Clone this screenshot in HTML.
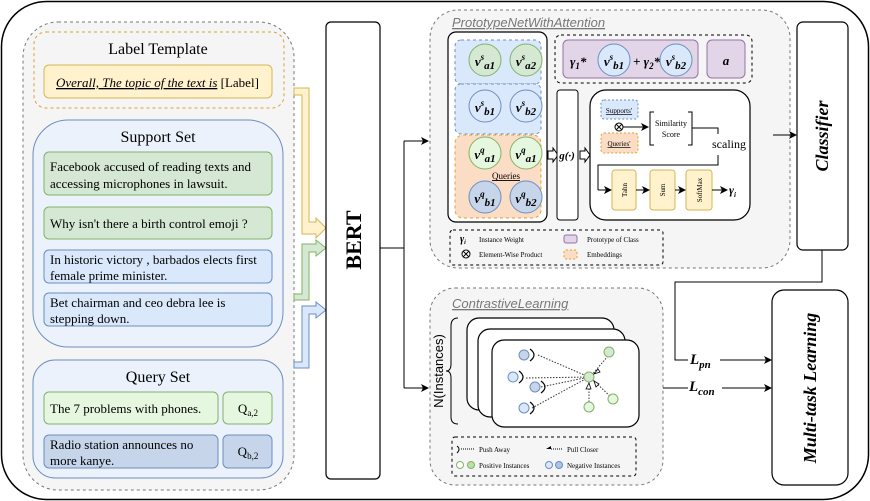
<!DOCTYPE html>
<html><head><meta charset="utf-8"><style>
html,body{margin:0;padding:0;background:#fff}
svg{display:block}
text{font-family:"Liberation Serif",serif}
</style></head><body>
<svg width="870" height="501" viewBox="0 0 870 501" xmlns="http://www.w3.org/2000/svg">
<defs>
<marker id="ah" markerWidth="8" markerHeight="8" refX="7" refY="4" orient="auto" markerUnits="userSpaceOnUse"><path d="M0,0 L8,4 L0,8 L2,4 Z" fill="#000"/></marker>
</defs>
<!-- outer -->
<rect x="1.5" y="1.5" width="867" height="498" rx="45" fill="#fff" stroke="#000" stroke-width="1.5"/>

<!-- left panel -->
<rect x="23" y="22" width="271" height="218" fill="none"/>
<rect x="23" y="22" width="271" height="218" rx="0" fill="none"/>
<rect x="23" y="22" width="271" height="218" fill="none"/>
<rect x="23" y="22" width="271" height="218" fill="none"/>
<rect x="23" y="22" width="271" height="218" fill="none"/>
<rect x="23" y="22" width="271" height="468" rx="35" fill="#f5f5f5" stroke="#777" stroke-dasharray="3,3"/>
<rect x="34" y="32" width="250" height="76" rx="12" fill="none" stroke="#e0a030" stroke-dasharray="3,3"/>
<text x="158" y="54" font-size="16" text-anchor="middle">Label Template</text>
<rect x="44" y="65" width="228" height="33" rx="5" fill="#fff2cc" stroke="#d6b656"/>
<text x="56" y="87" font-size="13"><tspan font-style="italic" text-decoration="underline">Overall, The topic of the text is</tspan> [Label]</text>

<rect x="33" y="120" width="250" height="227" rx="35" fill="#ebf2fb" stroke="#6c8ebf"/>
<text x="158" y="142" font-size="16" text-anchor="middle">Support Set</text>
<rect x="44" y="152" width="228" height="43" rx="5" fill="#d5e8d4" stroke="#82b366"/>
<text x="50" y="171" font-size="13">Facebook accused of reading texts and</text>
<text x="50" y="188" font-size="13">accessing microphones in lawsuit.</text>
<rect x="44" y="207" width="228" height="32" rx="5" fill="#d5e8d4" stroke="#82b366"/>
<text x="50" y="228" font-size="13">Why isn't there a birth control emoji ?</text>
<rect x="44" y="250" width="228" height="33" rx="5" fill="#dae8fc" stroke="#6c8ebf"/>
<text x="50" y="264" font-size="13">In historic victory , barbados elects first</text>
<text x="50" y="280" font-size="13">female prime minister.</text>
<rect x="44" y="293" width="228" height="33" rx="5" fill="#dae8fc" stroke="#6c8ebf"/>
<text x="50" y="307" font-size="13">Bet chairman and ceo debra lee is</text>
<text x="50" y="323" font-size="13">stepping down.</text>

<rect x="33" y="360" width="250" height="118" rx="22" fill="#ebf2fb" stroke="#6c8ebf"/>
<text x="158" y="382" font-size="16" text-anchor="middle">Query Set</text>
<rect x="44" y="392" width="174" height="32" rx="5" fill="#e6f7e0" stroke="#82b366"/>
<text x="50" y="413" font-size="13">The 7 problems with phones.</text>
<rect x="223" y="392" width="49" height="32" rx="5" fill="#e6f7e0" stroke="#82b366"/>
<text x="248" y="413" font-size="13" text-anchor="middle">Q<tspan font-size="9" dy="3">a,2</tspan></text>
<rect x="44" y="435" width="174" height="33" rx="5" fill="#c6d5ea" stroke="#6c8ebf"/>
<text x="50" y="449" font-size="13">Radio station announces no</text>
<text x="50" y="465" font-size="13">more kanye.</text>
<rect x="223" y="435" width="49" height="33" rx="5" fill="#c6d5ea" stroke="#6c8ebf"/>
<text x="248" y="456" font-size="13" text-anchor="middle">Q<tspan font-size="9" dy="3">b,2</tspan></text>

<!-- hollow arrows to BERT -->
<path d="M294,88 L309,88 L309,222 L316,222 L316,218 L326,228 L316,238 L316,234 L302,234 L302,95 L294,95 Z" fill="#fff2cc" stroke="#d6b656"/>
<path d="M294,294 L302,294 L302,244 L316,244 L316,240 L326,248 L316,256 L316,252 L309,252 L309,300 L294,300 Z" fill="#d5e8d4" stroke="#82b366"/>
<path d="M294,362 L302,362 L302,306 L316,306 L316,302 L326,310 L316,318 L316,314 L309,314 L309,368 L294,368 Z" fill="#dae8fc" stroke="#6c8ebf"/>

<!-- BERT -->
<rect x="326" y="22" width="54" height="457" rx="5" fill="#fff" stroke="#000" stroke-width="1.2"/>
<text transform="translate(361,240) rotate(-90)" font-size="22" font-weight="bold" text-anchor="middle">BERT</text>

<path d="M380,248 L404,248 M404,141 L404,388" stroke="#000" fill="none"/>
<line x1="404" y1="141" x2="428" y2="141" stroke="#000" marker-end="url(#ah)"/>
<line x1="404" y1="388" x2="428" y2="388" stroke="#000" marker-end="url(#ah)"/>

<!-- Prototype panel -->
<rect x="430" y="10" width="360" height="258" rx="28" fill="#f5f5f5" stroke="#777" stroke-dasharray="3,3"/>
<text x="452" y="27" font-size="13" font-style="italic" fill="#777" text-decoration="underline" style="font-family:'Liberation Sans',sans-serif">PrototypeNetWithAttention</text>
<rect x="448" y="32" width="99" height="190" rx="8" fill="#fff" stroke="#000" stroke-width="1.2"/>
<rect x="455" y="40" width="86" height="44" rx="6" fill="#dae8fc" stroke="#6c8ebf" stroke-dasharray="3,3"/>
<rect x="455" y="84" width="86" height="50" rx="6" fill="#dae8fc" stroke="#6c8ebf" stroke-dasharray="3,3"/>
<rect x="455" y="135" width="86" height="83" rx="8" fill="#fbdcc4" stroke="#e0a030" stroke-dasharray="3,3"/>
<g font-size="13" font-weight="bold" font-style="italic" text-anchor="middle">
<circle cx="485" cy="60" r="16" fill="#d5e8d4" stroke="#82b366"/><text x="485" y="66">v<tspan font-size="9" dy="-6">s</tspan><tspan font-size="11" dy="9">a1</tspan></text>
<circle cx="526" cy="60" r="16" fill="#d5e8d4" stroke="#82b366"/><text x="526" y="66">v<tspan font-size="9" dy="-6">s</tspan><tspan font-size="11" dy="9">a2</tspan></text>
<circle cx="485" cy="106" r="16" fill="#dae8fc" stroke="#6c8ebf"/><text x="485" y="112">v<tspan font-size="9" dy="-6">s</tspan><tspan font-size="11" dy="9">b1</tspan></text>
<circle cx="526" cy="106" r="16" fill="#dae8fc" stroke="#6c8ebf"/><text x="526" y="112">v<tspan font-size="9" dy="-6">s</tspan><tspan font-size="11" dy="9">b2</tspan></text>
<circle cx="485" cy="153" r="16" fill="#e6f7e0" stroke="#82b366"/><text x="485" y="159">v<tspan font-size="9" dy="-6">q</tspan><tspan font-size="11" dy="9">a1</tspan></text>
<circle cx="526" cy="153" r="16" fill="#e6f7e0" stroke="#82b366"/><text x="526" y="159">v<tspan font-size="9" dy="-6">q</tspan><tspan font-size="11" dy="9">a1</tspan></text>
<circle cx="485" cy="197" r="16" fill="#c6d5ea" stroke="#6c8ebf"/><text x="485" y="203">v<tspan font-size="9" dy="-6">q</tspan><tspan font-size="11" dy="9">b1</tspan></text>
<circle cx="526" cy="197" r="16" fill="#c6d5ea" stroke="#6c8ebf"/><text x="526" y="203">v<tspan font-size="9" dy="-6">q</tspan><tspan font-size="11" dy="9">b2</tspan></text>
</g>
<text x="506" y="179" font-size="9" text-anchor="middle" text-decoration="underline">Queries</text>

<path d="M548,151 L553,151 L553,148 L558,155 L553,162 L553,159 L548,159 Z" fill="#fff" stroke="#000"/>
<rect x="557" y="90" width="21" height="130" rx="3" fill="#fff" stroke="#000"/>
<text x="567" y="159" font-size="11" font-weight="bold" font-style="italic" text-anchor="middle">g(·)</text>
<path d="M580,151 L585,151 L585,148 L590,155 L585,162 L585,159 L580,159 Z" fill="#fff" stroke="#000"/>

<rect x="555" y="35" width="197" height="48" rx="6" fill="none" stroke="#000" stroke-dasharray="3,3"/>
<rect x="563" y="40" width="135" height="38" rx="5" fill="#e1d5e7" stroke="#9673a6"/>
<rect x="707" y="40" width="38" height="38" rx="5" fill="#e1d5e7" stroke="#9673a6"/>
<text x="726" y="65" font-size="13" font-weight="bold" font-style="italic" text-anchor="middle">a</text>
<text x="570" y="66" font-size="13" font-weight="bold" font-style="italic">γ<tspan font-size="9" dy="3">1</tspan><tspan dy="-3">*</tspan></text>
<circle cx="614" cy="60" r="16" fill="#dae8fc" stroke="#6c8ebf"/>
<text x="614" y="66" font-size="13" font-weight="bold" font-style="italic" text-anchor="middle">v<tspan font-size="9" dy="-6">s</tspan><tspan font-size="11" dy="9">b1</tspan></text>
<text x="633" y="66" font-size="13" font-weight="bold" font-style="italic">+ γ<tspan font-size="9" dy="3">2</tspan><tspan dy="-3">*</tspan></text>
<circle cx="676" cy="60" r="16" fill="#dae8fc" stroke="#6c8ebf"/>
<text x="676" y="66" font-size="13" font-weight="bold" font-style="italic" text-anchor="middle">v<tspan font-size="9" dy="-6">s</tspan><tspan font-size="11" dy="9">b2</tspan></text>

<!-- attention box -->
<rect x="590" y="90" width="160" height="130" rx="16" fill="#fff" stroke="#000" stroke-width="1.2"/>
<rect x="601" y="100" width="37" height="19" rx="3" fill="#dae8fc" stroke="#6c8ebf" stroke-dasharray="2,2"/>
<text x="619" y="113" font-size="7" text-anchor="middle" text-decoration="underline">Supports'</text>
<rect x="601" y="133" width="37" height="20" rx="3" fill="#fbdcc4" stroke="#e0a030" stroke-dasharray="2,2"/>
<text x="619" y="146" font-size="7" text-anchor="middle" text-decoration="underline">Queries'</text>
<circle cx="619" cy="127" r="4" fill="#fff" stroke="#000"/>
<path d="M616,124 L622,130 M622,124 L616,130" stroke="#000"/>
<line x1="623" y1="127" x2="648" y2="127" stroke="#000" marker-end="url(#ah)"/>
<path d="M654,112 L650,112 L650,145 L654,145 M688,112 L692,112 L692,145 L688,145" stroke="#000" fill="none"/>
<text x="671" y="126" font-size="8" text-anchor="middle">Similarity</text>
<text x="671" y="137" font-size="8" text-anchor="middle">Score</text>
<path d="M692,128 L718,128 L718,134 M718,155 L718,165 L598,165 L598,190" stroke="#000" fill="none"/>
<text x="729" y="148" font-size="12" text-anchor="middle">scaling</text>
<line x1="598" y1="190" x2="611" y2="190" stroke="#000" marker-end="url(#ah)"/>
<rect x="612" y="170" width="24" height="40" rx="3" fill="#fff2cc" stroke="#d6b656"/>
<rect x="650" y="170" width="25" height="40" rx="3" fill="#fff2cc" stroke="#d6b656"/>
<rect x="686" y="170" width="26" height="40" rx="3" fill="#fff2cc" stroke="#d6b656"/>
<text transform="translate(627,190) rotate(-90)" font-size="7" text-anchor="middle">Tahn</text>
<text transform="translate(665,190) rotate(-90)" font-size="7" text-anchor="middle">Sum</text>
<text transform="translate(702,190) rotate(-90)" font-size="7" text-anchor="middle">SoftMax</text>
<line x1="636" y1="190" x2="649" y2="190" stroke="#000" marker-end="url(#ah)"/>
<line x1="675" y1="190" x2="685" y2="190" stroke="#000" marker-end="url(#ah)"/>
<line x1="712" y1="190" x2="727" y2="190" stroke="#000" marker-end="url(#ah)"/>
<text x="729" y="194" font-size="12" font-weight="bold" font-style="italic">γ<tspan font-size="7" dy="3">i</tspan></text>

<!-- legend 1 -->
<rect x="450" y="230" width="213" height="35" rx="3" fill="none" stroke="#000" stroke-dasharray="3,3"/>
<text x="460" y="242" font-size="10" font-weight="bold" font-style="italic">γ<tspan font-size="6" dy="2">i</tspan></text>
<text x="479" y="242" font-size="7">Instance Weight</text>
<circle cx="466" cy="254" r="4" fill="#fff" stroke="#000"/><path d="M463,251 L469,257 M469,251 L463,257" stroke="#000"/>
<text x="479" y="257" font-size="7">Element-Wise Product</text>
<rect x="564" y="235" width="13" height="8" rx="2" fill="#e1d5e7" stroke="#9673a6"/>
<text x="587" y="242" font-size="7">Prototype of Class</text>
<rect x="564" y="250" width="13" height="9" rx="2" fill="#fbdcc4" stroke="#e0a030" stroke-dasharray="2,2"/>
<text x="587" y="257" font-size="7">Embeddings</text>

<!-- Classifier -->
<rect x="797" y="22" width="51" height="228" rx="6" fill="#fff" stroke="#000" stroke-width="1.2"/>
<text transform="translate(828,136) rotate(-90)" font-size="18" font-weight="bold" font-style="italic" text-anchor="middle">Classifier</text>
<line x1="773" y1="135" x2="796" y2="135" stroke="#000" marker-end="url(#ah)"/>
<path d="M822,250 L822,282 L675,282 L675,360 L688,360" stroke="#000" fill="none"/>
<line x1="720" y1="360" x2="771" y2="360" stroke="#000" marker-end="url(#ah)"/>
<text x="690" y="364" font-size="15" font-weight="bold" font-style="italic">L<tspan font-size="11" dy="4">pn</tspan></text>
<line x1="663" y1="388" x2="688" y2="388" stroke="#000"/>
<line x1="722" y1="388" x2="771" y2="388" stroke="#000" marker-end="url(#ah)"/>
<text x="689" y="391" font-size="15" font-weight="bold" font-style="italic">L<tspan font-size="11" dy="4">con</tspan></text>

<rect x="772" y="290" width="76" height="195" rx="12" fill="#fff" stroke="#000" stroke-width="1.2"/>
<text transform="translate(816,388) rotate(-90)" font-size="18" font-weight="bold" font-style="italic" text-anchor="middle">Multi-task Learning</text>

<!-- Contrastive -->
<rect x="430" y="288" width="233" height="197" rx="25" fill="#f5f5f5" stroke="#777" stroke-dasharray="3,3"/>
<text x="452" y="308" font-size="13" font-style="italic" fill="#777" text-decoration="underline" style="font-family:'Liberation Sans',sans-serif">ContrastiveLearning</text>
<path d="M458,318 Q451,318 451,326 L451,364 Q451,371 446,371 Q451,371 451,378 L451,417 Q451,424 458,424" stroke="#000" fill="none"/>
<text transform="translate(443,371) rotate(-90)" font-size="13" text-anchor="middle" style="font-family:'Liberation Sans',sans-serif">N(Instances)</text>
<rect x="467" y="318" width="147" height="92" rx="12" fill="#fff" stroke="#000" stroke-width="1.2"/>
<rect x="478" y="329" width="147" height="88" rx="12" fill="#fff" stroke="#000" stroke-width="1.2"/>
<rect x="492" y="340" width="147" height="87" rx="12" fill="#fff" stroke="#000" stroke-width="1.2"/>
<g stroke="#333" stroke-dasharray="1.5,1.5">
<line x1="538" y1="355" x2="589" y2="377"/>
<line x1="526" y1="378" x2="589" y2="377"/>
<line x1="541" y1="387" x2="589" y2="377"/>
<line x1="532" y1="408" x2="589" y2="377"/>
<line x1="608" y1="356" x2="590" y2="377"/>
<line x1="612" y1="398" x2="592" y2="379"/>
<line x1="589" y1="405" x2="589" y2="380"/>
</g>
<g fill="#dae8fc" stroke="#6c8ebf">
<circle cx="524" cy="355" r="5" fill="#c6d5ea"/><circle cx="513" cy="377" r="5"/><circle cx="535" cy="387" r="5" fill="#c6d5ea"/><circle cx="524" cy="408" r="5"/>
</g>
<g fill="none" stroke="#000" stroke-width="1.2">
<path d="M530,349 Q538,355 530,361"/><path d="M519,371 Q527,377 519,383"/><path d="M541,381 Q549,387 541,393"/><path d="M530,402 Q538,408 530,414"/>
</g>
<g fill="#e6f7e0" stroke="#82b366">
<circle cx="589" cy="377" r="5" fill="#d5e8d4"/><circle cx="609" cy="352" r="5" fill="#d5e8d4"/><circle cx="613" cy="399" r="5"/><circle cx="589" cy="407" r="5"/>
</g>
<path d="M598,369 L594,374 L600,372 Z M599,384 L594,381 L596,387 Z M586,389 L589,383 L591,389 Z" fill="#fff" stroke="#000" stroke-width="0.8"/>
<rect x="452" y="437" width="184" height="39" rx="3" fill="none" stroke="#000" stroke-dasharray="3,3"/>
<path d="M457,446 Q461,449 457,453" fill="none" stroke="#000"/>
<line x1="461" y1="449" x2="474" y2="449" stroke="#000" stroke-dasharray="1,1"/>
<text x="479" y="452" font-size="7">Push Away</text>
<path d="M546,449 L551,446 L551,449 Z" fill="#000"/>
<line x1="551" y1="449" x2="563" y2="449" stroke="#000" stroke-dasharray="1,1"/>
<text x="567" y="452" font-size="7">Pull Closer</text>
<circle cx="460" cy="465" r="3.5" fill="#fff" stroke="#82b366"/><circle cx="471" cy="465" r="3.5" fill="#b9e0a5" stroke="#82b366"/>
<text x="479" y="468" font-size="7">Positive Instances</text>
<circle cx="549" cy="465" r="3.5" fill="#dae8fc" stroke="#6c8ebf"/><circle cx="559" cy="465" r="3.5" fill="#a9c4eb" stroke="#6c8ebf"/>
<text x="567" y="468" font-size="7">Negative Instances</text>
</svg>
</body></html>
